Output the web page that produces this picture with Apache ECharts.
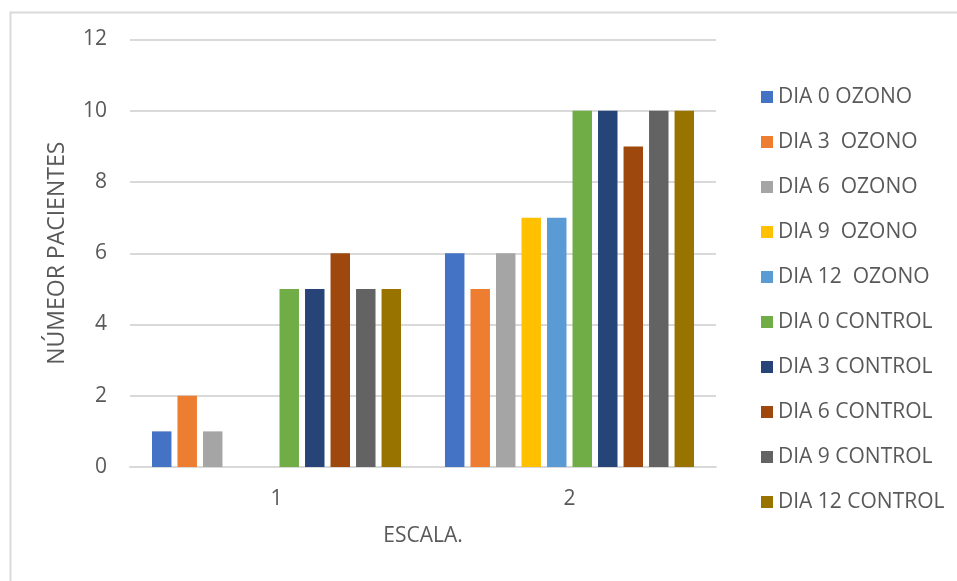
<!DOCTYPE html>
<html>
<head>
<meta charset="utf-8">
<script src="https://cdn.jsdelivr.net/npm/echarts@6/dist/echarts.min.js"></script>
<style>
  html, body { margin: 0; padding: 0; background: #ffffff; }
  #chart { width: 957px; height: 581px; }
</style>
</head>
<body>
<div id="chart"></div>
<script>
// Categories on the x axis (scale level)
const categories = ['1', '2'];

// Series names, in legend order
const seriesNames = [
  'DIA 0 OZONO', 'DIA 3  OZONO', 'DIA 6  OZONO', 'DIA 9  OZONO', 'DIA 12  OZONO',
  'DIA 0 CONTROL', 'DIA 3 CONTROL', 'DIA 6 CONTROL', 'DIA 9 CONTROL', 'DIA 12 CONTROL'
];

// Number of patients per series, for scale 1 and scale 2
const dia0Ozono = [1, 6];
const dia3Ozono = [2, 5];
const dia6Ozono = [1, 6];
const dia9Ozono = [0, 7];
const dia12Ozono = [0, 7];
const dia0Control = [5, 10];
const dia3Control = [5, 10];
const dia6Control = [6, 9];
const dia9Control = [5, 10];
const dia12Control = [5, 10];

const seriesValues = [
  dia0Ozono, dia3Ozono, dia6Ozono, dia9Ozono, dia12Ozono,
  dia0Control, dia3Control, dia6Control, dia9Control, dia12Control
];

const seriesColors = [
  '#4472C4', '#ED7D31', '#A5A5A5', '#FFC000', '#5B9BD5',
  '#70AD47', '#264478', '#9E480E', '#636363', '#997300'
];

const yTicks = { min: 0, max: 12, interval: 2 };

const textColor = '#595959';
const fontFamily = '"Open Sans", "Liberation Sans", sans-serif';

const chart = echarts.init(document.getElementById('chart'), null, { renderer: 'canvas' });

chart.setOption({
  backgroundColor: '#ffffff',
  animation: false,
  textStyle: { fontFamily: fontFamily, color: textColor },
  graphic: [{
    type: 'rect',
    left: 8, top: 10,
    shape: { width: 1200, height: 900 },
    style: { fill: 'none', stroke: '#d9d9d9', lineWidth: 2 },
    silent: true,
    z: -1
  }],
  grid: { left: 130, right: 241, top: 39.5, bottom: 114 },
  legend: {
    orient: 'vertical',
    left: 756,
    top: 81,
    itemWidth: 12,
    itemHeight: 12,
    itemGap: 23,
    icon: 'rect',
    data: seriesNames,
    textStyle: {
      fontFamily: fontFamily, fontSize: 21, color: textColor,
      lineHeight: 22
    }
  },
  xAxis: {
    type: 'category',
    data: categories,
    name: 'ESCALA.',
    nameLocation: 'middle',
    nameGap: 59,
    nameTextStyle: { fontFamily: fontFamily, fontSize: 21, color: textColor },
    axisLine: { show: true, lineStyle: { color: '#d9d9d9', width: 2 } },
    axisTick: { show: false },
    axisLabel: { fontFamily: fontFamily, fontSize: 21, color: textColor, margin: 22 }
  },
  yAxis: {
    type: 'value',
    min: yTicks.min,
    max: yTicks.max,
    interval: yTicks.interval,
    name: 'NÚMEOR PACIENTES',
    nameLocation: 'middle',
    nameRotate: 90,
    nameGap: 61,
    nameTextStyle: { fontFamily: fontFamily, fontSize: 23, color: textColor },
    axisLine: { show: false },
    axisTick: { show: false },
    axisLabel: { fontFamily: fontFamily, fontSize: 21, color: textColor, margin: 23 },
    splitLine: { lineStyle: { color: '#d9d9d9', width: 2 } }
  },
  series: seriesNames.map((name, i) => ({
    name: name,
    type: 'bar',
    data: seriesValues[i],
    barGap: '31%',
    barCategoryGap: '15%',
    itemStyle: { color: seriesColors[i] }
  }))
});
</script>
</body>
</html>
